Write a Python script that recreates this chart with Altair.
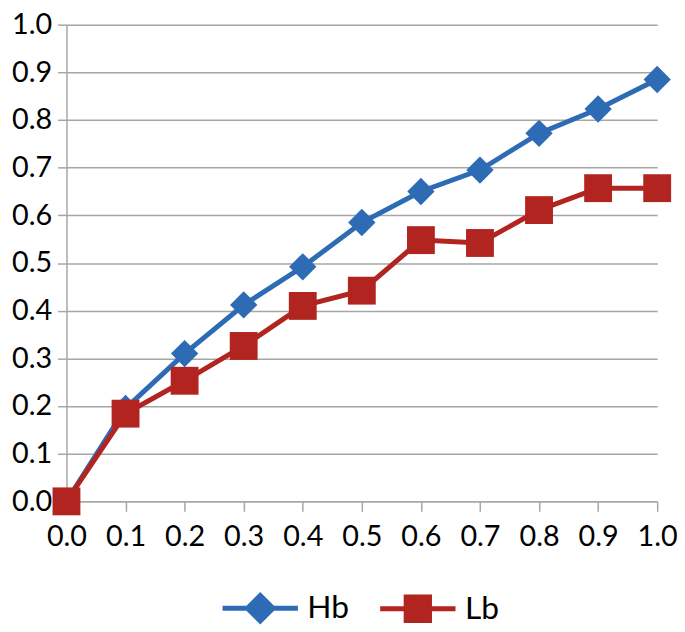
import altair as alt
import pandas as pd

x_vals = [0.0, 0.1, 0.2, 0.3, 0.4, 0.5, 0.6, 0.7, 0.8, 0.9, 1.0]
hb = [0.0, 0.195, 0.31, 0.412, 0.492, 0.585, 0.65, 0.695, 0.772, 0.823, 0.885]
lb = [0.0, 0.184, 0.253, 0.326, 0.41, 0.442, 0.548, 0.542, 0.611, 0.657, 0.657]
series_names = ["Hb", "Lb"]
series_colors = ["#2E6BB5", "#B2241F"]
tick_vals = [0.0, 0.1, 0.2, 0.3, 0.4, 0.5, 0.6, 0.7, 0.8, 0.9, 1.0]

rows = []
for name, vals in zip(series_names, [hb, lb]):
    for xv, yv in zip(x_vals, vals):
        rows.append({"x": xv, "y": yv, "series": name})
df = pd.DataFrame(rows)

FONT = "Lato"
GRID = "#A6A6A6"
LBL = 29

xenc = alt.X("x:Q", scale=alt.Scale(domain=[0, 1], nice=False),
             axis=alt.Axis(values=tick_vals, format=".1f", title=None, grid=False,
                           domainColor=GRID, domainWidth=1.5, tickColor=GRID,
                           tickWidth=1.5, tickSize=10, labelPadding=12,
                           labelFlush=False, labelOverlap=False,
                           labelFont=FONT, labelFontSize=LBL, labelColor="black"))
yenc = alt.Y("y:Q", scale=alt.Scale(domain=[0, 1], nice=False),
             axis=alt.Axis(values=tick_vals, format=".1f", title=None, grid=True,
                           gridColor=GRID, gridWidth=1.5, domainColor=GRID,
                           domainWidth=1.5, tickColor=GRID, tickWidth=1.5,
                           tickSize=9, labelPadding=6, labelFont=FONT,
                           labelFlush=False, labelOverlap=False,
                           labelFontSize=LBL, labelColor="black"))
color = alt.Color("series:N", scale=alt.Scale(domain=series_names, range=series_colors),
                  legend=alt.Legend(title=None, orient="none", direction="horizontal",
                                    legendX=155, legendY=548))

base = alt.Chart(df)
lines = base.mark_line(strokeWidth=5).encode(x=xenc, y=yenc, color=color)
diamonds = base.transform_filter("datum.series == 'Hb'").mark_point(
    shape="diamond", filled=True, opacity=1, size=760).encode(x="x:Q", y="y:Q", color=color)
squares = base.transform_filter("datum.series == 'Lb'").mark_point(
    shape="square", filled=True, opacity=1, size=790).encode(x="x:Q", y="y:Q", color=color)

# legend symbols: line segment with the series' marker
path_hb = "M-1,0L1,0M0,-0.34L0.34,0L0,0.34L-0.34,0Z"
path_lb = "M-1,0L1,0M-0.31,-0.31L0.31,-0.31L0.31,0.31L-0.31,0.31Z"

legend_layer = base.mark_point(size=5776, strokeWidth=5, filled=False).encode(
    x="x:Q", y="y:Q",
    opacity=alt.value(0),
    fill=alt.Fill("series:N", scale=alt.Scale(domain=series_names, range=series_colors)),
    stroke=alt.Stroke("series:N", scale=alt.Scale(domain=series_names, range=series_colors)),
    shape=alt.Shape("series:N", scale=alt.Scale(domain=series_names, range=[path_hb, path_lb])),
)

chart = alt.layer(lines, diamonds, squares, legend_layer).properties(
    width=596, height=481,
    autosize=alt.AutoSizeParams(type="none"),
    padding={"left": 59, "top": 14, "right": 20, "bottom": 129},
).configure_view(stroke=None).configure_legend(
    symbolSize=5776, symbolStrokeWidth=5, symbolOpacity=1,
    labelFont=FONT, labelFontSize=32, labelColor="black",
    labelOffset=7, columnPadding=20)

chart.save("out.html", embed_options={"renderer": "svg", "actions": False})
